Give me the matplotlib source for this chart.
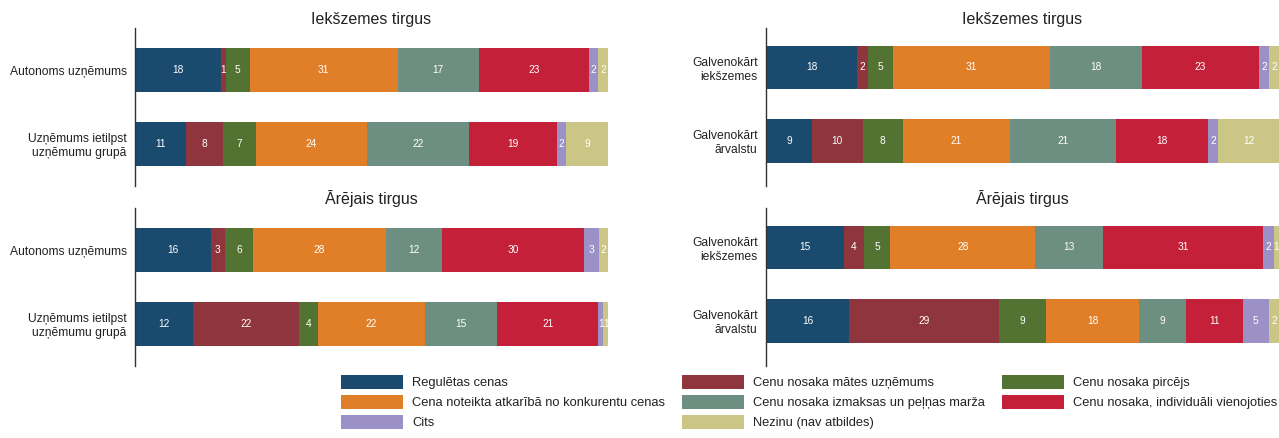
import matplotlib
matplotlib.use("Agg")
import matplotlib.pyplot as plt
import numpy as np
from matplotlib import font_manager
from matplotlib.patches import Patch

names = {f.name for f in font_manager.fontManager.ttflist}
base_font = "Liberation Sans" if "Liberation Sans" in names else "DejaVu Sans"
plt.rcParams['font.family'] = [base_font, 'DejaVu Sans']

categories = [
    "Regulētas cenas",
    "Cenu nosaka mātes uzņēmums",
    "Cenu nosaka pircējs",
    "Cena noteikta atkarībā no konkurentu cenas",
    "Cenu nosaka izmaksas un peļņas marža",
    "Cenu nosaka, individuāli vienojoties",
    "Cits",
    "Nezinu (nav atbildes)",
]
colors = ["#1a4a6e", "#8f353d", "#537332", "#e07f28",
          "#6c8f81", "#c4203a", "#9b91c6", "#ccc686"]

left_rows = ["Autonoms uzņēmums", "Uzņēmums ietilpst\nuzņēmumu grupā"]
right_rows = ["Galvenokārt\niekšzemes", "Galvenokārt\nārvalstu"]

titles = ["Iekšzemes tirgus", "Ārējais tirgus"]

# left panels
left_domestic = [[18, 1, 5, 31, 17, 23, 2, 2],
                 [11, 8, 7, 24, 22, 19, 2, 9]]
left_foreign = [[16, 3, 6, 28, 12, 30, 3, 2],
                [12, 22, 4, 22, 15, 21, 1, 1]]
# right panels
right_domestic = [[18, 2, 5, 31, 18, 23, 2, 2],
                  [9, 10, 8, 21, 21, 18, 2, 12]]
right_foreign = [[15, 4, 5, 28, 13, 31, 2, 1],
                 [16, 29, 9, 18, 9, 11, 5, 2]]

W, H = 1279, 438
fig = plt.figure(figsize=(W / 100, H / 100), dpi=100)

def rect(x0, y0, x1, y1):
    return [x0 / W, 1 - y1 / H, (x1 - x0) / W, (y1 - y0) / H]

panels = [
    (rect(135, 28, 608, 186), left_domestic, left_rows, titles[0], (1.575, -0.575)),
    (rect(135, 208, 608, 366), left_foreign, left_rows, titles[1], (1.575, -0.575)),
    (rect(766, 28, 1279, 186), right_domestic, right_rows, titles[0], (1.62, -0.54)),
    (rect(766, 208, 1279, 366), right_foreign, right_rows, titles[1], (1.62, -0.54)),
]

for pos, data, rows, title, ylim in panels:
    ax = fig.add_axes(pos)
    arr = np.array(data, dtype=float)
    shares = arr / arr.sum(axis=1, keepdims=True) * 100
    ypos = np.arange(len(rows))
    left = np.zeros(len(rows))
    for j in range(arr.shape[1]):
        bars = ax.barh(ypos, shares[:, j], left=left, height=0.6,
                       color=colors[j], edgecolor='none')
        for i, b in enumerate(bars):
            ax.text(left[i] + shares[i, j] / 2, ypos[i], f"{int(arr[i, j])}",
                    ha='center', va='center', color='white', fontsize=7.3)
        left += shares[:, j]
    ax.set_xlim(0, 100)
    ax.set_ylim(ylim[0], ylim[1])
    ax.set_yticks(ypos)
    ax.set_yticklabels(rows, fontsize=8.7, color='#222222')
    ax.tick_params(axis='y', length=0, pad=6)
    ax.set_xticks([])
    for s in ['top', 'right', 'bottom']:
        ax.spines[s].set_visible(False)
    ax.spines['left'].set_color('#333333')
    ax.spines['left'].set_linewidth(1.0)
    ax.set_title(title, fontsize=11.5, pad=3, color='#222222')

handles = [Patch(facecolor=c, edgecolor='none') for c in colors]
order = [0, 3, 6, 1, 4, 7, 2, 5]
leg = fig.legend([handles[i] for i in order], [categories[i] for i in order],
                 ncol=3, loc='upper left', bbox_to_anchor=(341 / W, 1 - 375 / H),
                 frameon=False, handlelength=4.8, handleheight=1.32,
                 handletextpad=0.7, columnspacing=1.3, labelspacing=0.42,
                 borderaxespad=0, borderpad=0,
                 prop={'size': 9.3})
for t in leg.get_texts():
    t.set_color('#222222')

fig.savefig("out.png", dpi=100)
